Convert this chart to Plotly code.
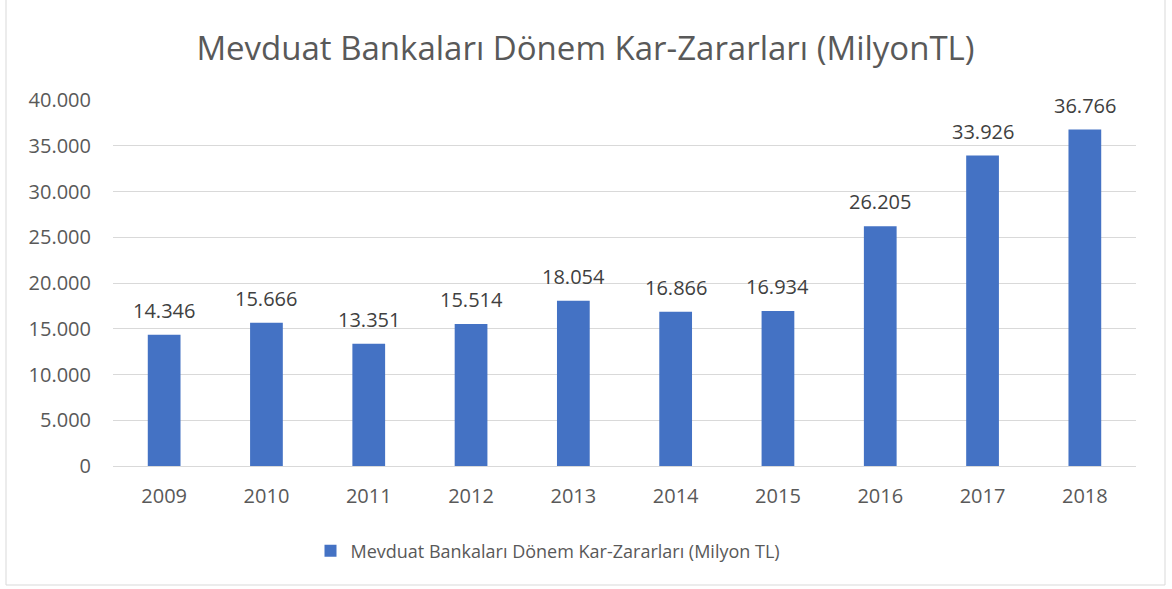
import plotly.graph_objects as go

years = ["2009", "2010", "2011", "2012", "2013", "2014", "2015", "2016", "2017", "2018"]
values = [14346, 15666, 13351, 15514, 18054, 16866, 16934, 26205, 33926, 36766]
tick_vals = [0, 5000, 10000, 15000, 20000, 25000, 30000, 35000, 40000]
series_name = "Mevduat Bankaları Dönem Kar-Zararları (Milyon TL)"
title_text = "Mevduat Bankaları Dönem Kar-Zararları (MilyonTL)"

FONT = "Open Sans"
fig = go.Figure()
fig.add_trace(go.Bar(
    x=years, y=values, name=series_name,
    marker=dict(color="#4472C4", line=dict(width=0)),
    showlegend=True,
))

def fmt(v):
    return f"{v:,}".replace(",", ".")

# category axis: annotation x given as category index
annotations = [dict(x=i, y=v, xref="x", yref="y", text=fmt(v), showarrow=False,
                    yanchor="bottom", yshift=9,
                    font=dict(family=FONT, size=20, color="#404040"))
               for i, v in enumerate(values)]

W0, W1 = 113, 1136
Y0, Y1 = 466, 100
def px(x): return (x - W0) / (W1 - W0)
def py(y): return (Y0 - y) / (Y0 - Y1)

fig.update_layout(
    width=1172, height=589,
    margin=dict(l=W0, r=1172 - W1, t=Y1, b=589 - Y0, autoexpand=False),
    paper_bgcolor="white", plot_bgcolor="white",
    separators=",.",
    bargap=0.68,
    title=dict(text=title_text, x=585.5 / 1172, xref="container", xanchor="center",
               y=1 - 48 / 589, yanchor="middle",
               font=dict(family=FONT, size=33, color="#595959")),
    font=dict(family=FONT, color="#595959"),
    xaxis=dict(type="category", categoryorder="array", categoryarray=years,
               showgrid=False, showline=True, linecolor="#D9D9D9", linewidth=1,
               ticks="", tickfont=dict(size=20, color="#595959"), ticklabelstandoff=12),
    yaxis=dict(range=[0, 40000], tickvals=tick_vals, tickformat=",.0f",
               showgrid=True, gridcolor="#D9D9D9", gridwidth=1,
               zeroline=False, showline=False, ticks="",
               tickfont=dict(size=20, color="#595959"), ticklabelstandoff=21),
    legend=dict(orientation="h", x=px(548), xanchor="center", y=py(551), yanchor="middle",
                font=dict(family=FONT, size=18, color="#595959"),
                itemwidth=30),
    annotations=annotations,
    shapes=[dict(type="rect", xref="paper", yref="paper",
                 x0=px(6), x1=px(1165), y0=py(585), y1=py(-20),
                 line=dict(color="#D9D9D9", width=1), fillcolor="rgba(0,0,0,0)")],
)
fig.write_html("out.html", config={"displayModeBar": False},
               post_script="document.body.style.margin='0';")
